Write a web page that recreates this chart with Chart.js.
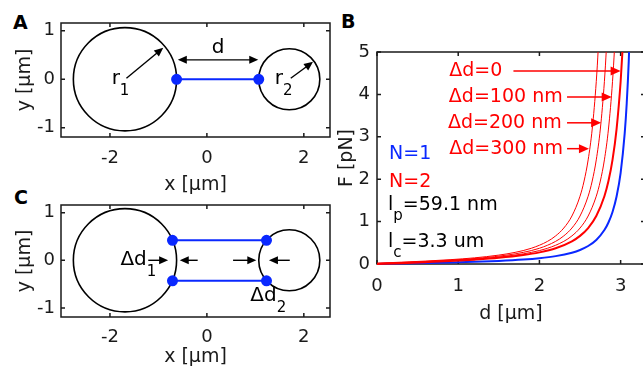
<!doctype html>
<html lang="en">
<head>
<meta charset="utf-8">
<script src="https://cdn.jsdelivr.net/npm/chart.js"></script>
<style>
  body { margin: 0; width: 643px; height: 368px; overflow: hidden; background: #fff; position: relative; }
  canvas { position: absolute; }
  .panel { position: absolute; font: bold 19px "DejaVu Sans", sans-serif; color: #000; }
</style>
</head>
<body>
<div class="panel" style="left:13px;top:11px">A</div>
<div class="panel" style="left:341px;top:10px">B</div>
<div class="panel" style="left:14px;top:186px">C</div>
<canvas id="chartA" width="340" height="200" style="left:0;top:0"></canvas>
<canvas id="chartC" width="340" height="178" style="left:0;top:190px"></canvas>
<canvas id="chartB" width="320" height="368" style="left:330px;top:0"></canvas>
<script>
// ---- panels A and C : bead geometry in µm ----
const circleX = [-1.69, 1.70];
const circleY = [0, 0];
const circleR = [1.065, 0.63];

const tetherAX = [-0.625, 1.07];
const tetherAY = [0, 0];

const tetherCX = [-0.71, 1.23];
const tetherCTop = [0.42, 0.42];
const tetherCBot = [-0.43, -0.43];

const xTicksAC = [-2, 0, 2];
const yTicksAC = [-1, 0, 1];

// arrows: x1, y1, x2, y2, double-headed
const arrowsA = [[-0.60, 0.40, 1.06, 0.40, 1], [-1.66, 0.02, -0.90, 0.65, 0], [1.73, 0.02, 2.19, 0.36, 0]];
const arrowsC = [[-1.21, 0, -0.80, 0, 0], [-0.19, 0, -0.56, 0, 0], [0.54, 0, 1.02, 0, 0], [1.71, 0, 1.28, 0, 0]];

const notesA = [{t: 'd', x: 0.23, y: 0.64, align: 'center'}, {t: 'r', s: '1', x: -1.965, y: 0}, {t: 'r', s: '2', x: 1.40, y: 0}];
const notesC = [{t: 'Δd', s: '1', x: -1.24, y: 0, align: 'right'}, {t: 'Δd', s: '2', x: 1.44, y: -0.75, align: 'right'}];

// ---- panel B : force vs distance ----
const dBlue = [0, 0.3, 0.6, 0.9, 1.2, 1.5, 1.8, 2.0, 2.2, 2.4, 2.5, 2.6, 2.7, 2.8, 2.85, 2.9, 2.95, 3.0, 3.05, 3.075, 3.1, 3.125];
const fBlue = [0, 0.010, 0.021, 0.034, 0.051, 0.073, 0.105, 0.137, 0.186, 0.267, 0.331, 0.424, 0.566, 0.800, 0.978, 1.228, 1.592, 2.151, 3.079, 3.790, 4.784, 6.24];

const dRed0 = [0, 0.3, 0.6, 0.9, 1.2, 1.5, 1.8, 2.0, 2.2, 2.4, 2.5, 2.6, 2.7, 2.8, 2.85, 2.9, 2.95, 3.0, 3.025, 3.05];
const fRed0 = [0, 0.020, 0.043, 0.069, 0.102, 0.145, 0.210, 0.274, 0.371, 0.534, 0.663, 0.848, 1.132, 1.599, 1.957, 2.456, 3.183, 4.303, 5.104, 6.157];

const dRed100 = [0, 0.2, 0.5, 0.8, 1.1, 1.4, 1.7, 1.9, 2.1, 2.3, 2.4, 2.5, 2.6, 2.7, 2.75, 2.8, 2.85, 2.9, 2.925, 2.95];
const fRed100 = [0.006, 0.020, 0.043, 0.069, 0.102, 0.145, 0.210, 0.274, 0.371, 0.534, 0.663, 0.848, 1.132, 1.599, 1.957, 2.456, 3.183, 4.303, 5.104, 6.157];

const dRed200 = [0, 0.1, 0.4, 0.7, 1.0, 1.3, 1.6, 1.8, 2.0, 2.2, 2.3, 2.4, 2.5, 2.6, 2.65, 2.7, 2.75, 2.8, 2.825, 2.85];
const fRed200 = [0.013, 0.020, 0.043, 0.069, 0.102, 0.145, 0.210, 0.274, 0.371, 0.534, 0.663, 0.848, 1.132, 1.599, 1.957, 2.456, 3.183, 4.303, 5.104, 6.157];

const dRed300 = [0, 0.3, 0.6, 0.9, 1.2, 1.5, 1.7, 1.9, 2.1, 2.2, 2.3, 2.4, 2.5, 2.55, 2.6, 2.65, 2.7, 2.725, 2.75];
const fRed300 = [0.020, 0.043, 0.069, 0.102, 0.145, 0.210, 0.274, 0.371, 0.534, 0.663, 0.848, 1.132, 1.599, 1.957, 2.456, 3.183, 4.303, 5.104, 6.157];

const xTicksB = [0, 1, 2, 3];
const yTicksB = [0, 1, 2, 3, 4, 5];

const arrowsB = [[1.68, 4.55, 3.0, 4.55, 0], [2.34, 3.94, 2.89, 3.94, 0], [2.34, 3.33, 2.76, 3.33, 0], [2.34, 2.72, 2.61, 2.72, 0]];
const notesBRed = [
  {t: 'Δd=0', x: 0.89, y: 4.56}, {t: 'Δd=100 nm', x: 0.885, y: 3.94},
  {t: 'Δd=200 nm', x: 0.873, y: 3.32}, {t: 'Δd=300 nm', x: 0.89, y: 2.71},
  {t: 'N=2', x: 0.148, y: 1.94}
];
const notesBBlue = [{t: 'N=1', x: 0.148, y: 2.6}];
const notesBBlack = [{t: 'l', s: 'p', a: '=59.1 nm', x: 0.136, y: 1.39}, {t: 'l', s: 'c', a: '=3.3 um', x: 0.136, y: 0.52}];

const BLUE = 'rgb(10,40,255)';
const RED = 'rgb(255,0,0)';
const INK = '#1a1a1a';

Chart.defaults.font.family = '"DejaVu Sans", sans-serif';
Chart.defaults.color = INK;
Chart.defaults.animation = false;

function pts(xs, ys) {
  return xs.map((v, i) => ({x: v, y: ys[i]}));
}

// box round the axes with inward ticks, matlab style
const box = {
  id: 'box',
  beforeDatasetsDraw(chart) {
    const {ctx, chartArea: {left, right, top, bottom}, scales: {x, y}} = chart;
    ctx.save();
    ctx.strokeStyle = INK;
    ctx.lineWidth = 1.5;
    ctx.strokeRect(left, top, right - left, bottom - top);
    ctx.beginPath();
    for (const t of x.ticks) {
      const p = x.getPixelForValue(t.value);
      ctx.moveTo(p, bottom); ctx.lineTo(p, bottom - 4);
      ctx.moveTo(p, top); ctx.lineTo(p, top + 4);
    }
    for (const t of y.ticks) {
      const p = y.getPixelForValue(t.value);
      ctx.moveTo(left, p); ctx.lineTo(left + 4, p);
      ctx.moveTo(right, p); ctx.lineTo(right - 4, p);
    }
    ctx.stroke();
    ctx.restore();
  }
};

function head(ctx, x1, y1, x2, y2, len, w) {
  const a = Math.atan2(y2 - y1, x2 - x1);
  ctx.beginPath();
  ctx.moveTo(x2, y2);
  ctx.lineTo(x2 - len * Math.cos(a) + w * Math.sin(a), y2 - len * Math.sin(a) - w * Math.cos(a));
  ctx.lineTo(x2 - len * Math.cos(a) - w * Math.sin(a), y2 - len * Math.sin(a) + w * Math.cos(a));
  ctx.closePath();
  ctx.fill();
}

// arrows and text placed in data units
const notes = {
  id: 'notes',
  afterDatasetsDraw(chart, args, opts) {
    const {ctx, scales: {x, y}} = chart;
    ctx.save();
    ctx.strokeStyle = opts.arrowColor;
    ctx.fillStyle = opts.arrowColor;
    ctx.lineWidth = opts.lineWidth;
    for (const a of opts.arrows || []) {
      const x1 = x.getPixelForValue(a[0]), y1 = y.getPixelForValue(a[1]);
      const x2 = x.getPixelForValue(a[2]), y2 = y.getPixelForValue(a[3]);
      const L = Math.hypot(x2 - x1, y2 - y1);
      const ux = (x2 - x1) / L, uy = (y2 - y1) / L;
      const s = a[4] ? opts.headLen - 2 : 0;
      ctx.beginPath();
      ctx.moveTo(x1 + ux * s, y1 + uy * s);
      ctx.lineTo(x2 - ux * (opts.headLen - 2), y2 - uy * (opts.headLen - 2));
      ctx.stroke();
      head(ctx, x1, y1, x2, y2, opts.headLen, opts.headW);
      if (a[4]) head(ctx, x2, y2, x1, y1, opts.headLen, opts.headW);
    }
    ctx.textBaseline = 'middle';
    ctx.textAlign = 'left';
    for (const g of opts.groups || []) {
      ctx.fillStyle = g.color;
      for (const n of g.items) {
        const px = x.getPixelForValue(n.x), py = y.getPixelForValue(n.y);
        ctx.font = opts.font;
        const w = ctx.measureText(n.t).width;
        let sx = n.align === 'center' ? px - w / 2 : n.align === 'right' ? px - w : px;
        ctx.fillText(n.t, sx, py);
        sx += w;
        if (n.s) {
          ctx.font = opts.subFont;
          ctx.fillText(n.s, sx, py + opts.subDrop);
          sx += ctx.measureText(n.s).width;
          ctx.font = opts.font;
        }
        if (n.a) ctx.fillText(n.a, sx, py);
      }
    }
    ctx.restore();
  }
};

function axis(o) {
  return {
    type: 'linear', position: o.pos, min: o.min, max: o.max,
    grid: {display: false, drawTicks: false},
    border: {display: false},
    ticks: {padding: o.pad, font: {size: 18, lineHeight: 1}, color: INK},
    title: {display: true, text: o.title, font: {size: 19, lineHeight: 1}, color: INK,
            padding: {top: o.tpad, bottom: o.tpad}},
    afterBuildTicks: s => { s.ticks = o.ticks.map(v => ({value: v})); },
    afterFit: s => { if (o.pos === 'left') s.width = o.size; else s.height = o.size; }
  };
}

function beads(tethers) {
  const ds = [{
    type: 'scatter',
    data: circleX.map((v, i) => ({x: v, y: circleY[i], r: circleR[i]})),
    pointStyle: 'circle',
    backgroundColor: 'rgba(0,0,0,0)',
    borderColor: '#000',
    pointBorderWidth: 1.6,
    pointRadius: c => {
      const s = c.chart.scales.x;
      return s.getPixelForValue(c.raw.x + c.raw.r) - s.getPixelForValue(c.raw.x);
    },
    clip: false
  }];
  for (const t of tethers) {
    ds.unshift({
      type: 'line', data: t, borderColor: BLUE, borderWidth: 2,
      pointRadius: 4.5, pointBackgroundColor: BLUE, pointBorderColor: BLUE, clip: false
    });
  }
  return ds;
}

function sketch(id, tethers, arrows, items, ymin, ymax, bottomSize, tickPad, titlePadX) {
  return new Chart(document.getElementById(id), {
    data: {datasets: beads(tethers)},
    options: {
      responsive: false,
      events: [],
      layout: {padding: {top: id === 'chartA' ? 23 : 12, right: 10, left: 0, bottom: 0}},
      plugins: {
        legend: {display: false}, tooltip: {enabled: false},
        notes: {arrows: arrows, arrowColor: '#000', lineWidth: 1.4, headLen: 9, headW: 4,
                font: '20px "DejaVu Sans"', subFont: '15px "DejaVu Sans"', subDrop: 12,
                groups: [{color: '#000', items: items}]}
      },
      scales: {
        x: axis({pos: 'bottom', min: -3.01, max: 2.54, ticks: xTicksAC, title: 'x [µm]', pad: tickPad, tpad: titlePadX, size: bottomSize}),
        y: axis({pos: 'left', min: ymin, max: ymax, ticks: yTicksAC, title: 'y [µm]', pad: 6, tpad: 15.5, size: 61})
      }
    },
    plugins: [box, notes]
  });
}

sketch('chartA', [pts(tetherAX, tetherAY)], arrowsA, notesA, -1.19, 1.16, 63, 12, 5.5);
sketch('chartC', [pts(tetherCX, tetherCTop), pts(tetherCX, tetherCBot)], arrowsC, notesC, -1.19, 1.16, 51, 11, 1.5);

function curve(xs, ys, color, width) {
  return {
    type: 'line', data: pts(xs, ys), borderColor: color, borderWidth: width,
    pointRadius: 0, cubicInterpolationMode: 'monotone',
    clip: {left: 2, top: 0, right: 0, bottom: 2}
  };
}

new Chart(document.getElementById('chartB'), {
  data: {
    datasets: [
      curve(dRed0, fRed0, RED, 2),
      curve(dRed100, fRed100, RED, 1),
      curve(dRed200, fRed200, RED, 1),
      curve(dRed300, fRed300, RED, 1),
      curve(dBlue, fBlue, BLUE, 2)
    ]
  },
  options: {
    responsive: false,
    events: [],
    layout: {padding: {top: 52, right: 5, left: 0, bottom: 0}},
    plugins: {
      legend: {display: false}, tooltip: {enabled: false},
      notes: {arrows: arrowsB, arrowColor: RED, lineWidth: 1.5, headLen: 10, headW: 4.5,
              font: '19px "DejaVu Sans"', subFont: '15px "DejaVu Sans"', subDrop: 11,
              groups: [{color: RED, items: notesBRed}, {color: BLUE, items: notesBBlue}, {color: '#000', items: notesBBlack}]}
    },
    scales: {
      x: axis({pos: 'bottom', min: 0, max: 3.3, ticks: xTicksB, title: 'd [µm]', pad: 13, tpad: 44.5, size: 104}),
      y: axis({pos: 'left', min: 0, max: 5, ticks: yTicksB, title: 'F [pN]', pad: 7, tpad: 7.5, size: 47})
    }
  },
  plugins: [box, notes]
});
</script>
</body>
</html>
